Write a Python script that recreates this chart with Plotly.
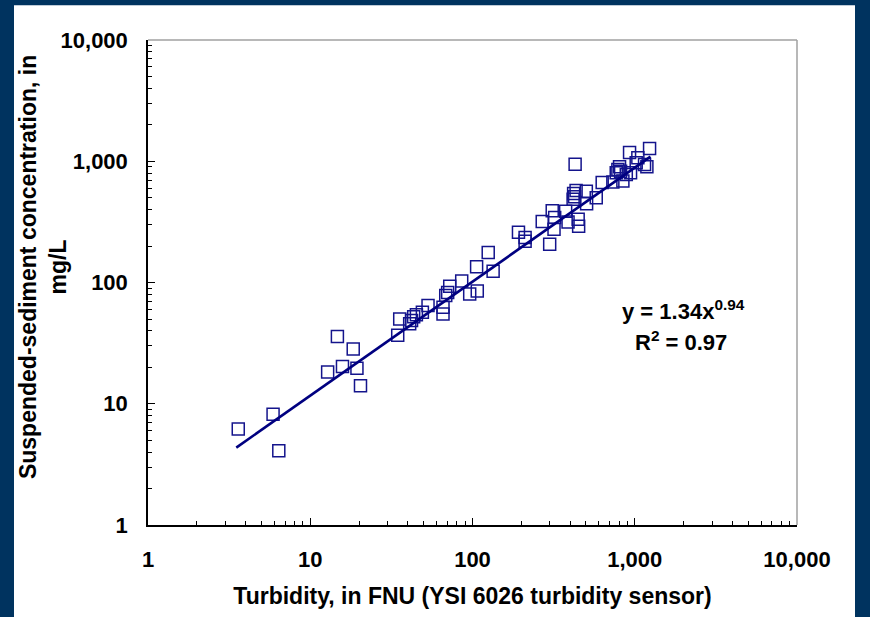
import plotly.graph_objects as go

# Observed data (turbidity in FNU, SSC in mg/L)
turbidity = [3.6, 5.9, 6.4, 12.8, 14.7, 15.8, 18.4, 19.4, 20.4,
             34.6, 35.6, 41, 42.1, 43.4, 45.1, 49.1, 53.2, 65.8, 65.8,
             68.4, 70.3, 72.4, 85.8, 96.1, 107, 106, 125, 134,
             192, 211, 211, 269, 299, 310, 321, 318, 375, 388, 448, 451,
             429, 420, 426, 435, 417, 503, 505, 579,
             630, 733, 769, 787, 806, 818, 845, 887, 929, 942, 1021, 1045,
             1149, 1188, 1234]
ssc = [6.2, 8.2, 4.1, 18.3, 35.9, 20.3, 28.3, 19.6, 14.1,
       36.7, 50.1, 45.6, 48.6, 52.1, 54.1, 56.9, 64.5, 55.1, 62.5,
       78.2, 82.8, 93.1, 103, 80.5, 85.1, 135, 177, 124,
       260, 235, 219, 318, 207, 390, 343, 275, 387, 316, 332, 291,
       946, 543, 509, 575, 485, 565, 446, 501,
       668, 673, 804, 855, 900, 829, 686, 778, 1180, 804, 971, 1067,
       940, 900, 1273]

# Regression shown on chart: y = 1.34 x^0.94
coef_a = 1.34
coef_b = 0.94
fit_x = [3.5, 1250]
fit_y = [coef_a * v ** coef_b for v in fit_x]

tick_vals = [1, 10, 100, 1000, 10000]
tick_text = ["1", "10", "100", "1,000", "10,000"]

x_title = "Turbidity, in FNU (YSI 6026 turbidity sensor)"
y_title = "Suspended-sediment concentration, in<br>mg/L"

NAVY = "#000080"
FONT = "Liberation Sans, Arial, sans-serif"

fig = go.Figure()
fig.add_trace(go.Scatter(
    x=turbidity, y=ssc, mode="markers",
    marker=dict(symbol="square-open", size=12, color="#14148c",
                line=dict(width=1.5, color="#14148c")),
    showlegend=False))
fig.add_trace(go.Scatter(
    x=fit_x, y=fit_y, mode="lines",
    line=dict(color=NAVY, width=2.6), showlegend=False))

L, R, T, B = 148, 73, 40, 90
W, H = 870, 617
pw, ph = W - L - R, H - T - B

def px(xp):
    return (xp - L) / pw

def py(yp):
    return (H - B - yp) / ph

axis_common = dict(
    type="log", range=[0, 4], tickvals=tick_vals, ticktext=tick_text,
    ticks="inside", ticklen=7, tickwidth=1, tickcolor="#000",
    showline=True, linecolor="#000", linewidth=1.5,
    showgrid=False, zeroline=False,
    minor=dict(ticks="inside", ticklen=4, tickcolor="#000", dtick="D1", showgrid=False),
    tickfont=dict(family=FONT, size=22, color="#000", weight="bold"),
)

fig.update_xaxes(**axis_common, ticklabelstandoff=14,
                 title=dict(text=x_title,
                            font=dict(family=FONT, size=23, color="#000", weight="bold"),
                            standoff=17))
fig.update_yaxes(**axis_common, ticklabelstandoff=14)

shapes = [
    # white panel over the navy background
    dict(type="rect", xref="paper", yref="paper",
         x0=px(14), x1=px(855), y0=py(640), y1=py(5),
         fillcolor="white", line=dict(width=0), layer="below"),
    # gray top and right frame
    dict(type="line", xref="paper", yref="paper", x0=0, x1=1, y0=1, y1=1,
         line=dict(color="#a0a0a0", width=1.5)),
    dict(type="line", xref="paper", yref="paper", x0=1, x1=1, y0=0, y1=1,
         line=dict(color="#a0a0a0", width=1.5)),
]

annotations = [
    dict(text=y_title, xref="paper", yref="paper",
         x=px(43), y=py(268), xanchor="center", yanchor="middle",
         textangle=-90, showarrow=False,
         font=dict(family=FONT, size=23, color="#000", weight="bold")),
    dict(text="y = 1.34x<sup>0.94</sup>", xref="paper", yref="paper",
         x=px(683), y=py(311), xanchor="center", yanchor="middle", showarrow=False,
         font=dict(family=FONT, size=22, color="#000", weight="bold")),
    dict(text="R<sup>2</sup> = 0.97", xref="paper", yref="paper",
         x=px(681), y=py(342), xanchor="center", yanchor="middle", showarrow=False,
         font=dict(family=FONT, size=22, color="#000", weight="bold")),
]

fig.update_layout(
    width=W, height=H,
    margin=dict(l=L, r=R, t=T, b=B, pad=0),
    paper_bgcolor="#00335f", plot_bgcolor="white",
    shapes=shapes, annotations=annotations,
    font=dict(family=FONT, color="#000"),
)

fig.write_html("out.html")
